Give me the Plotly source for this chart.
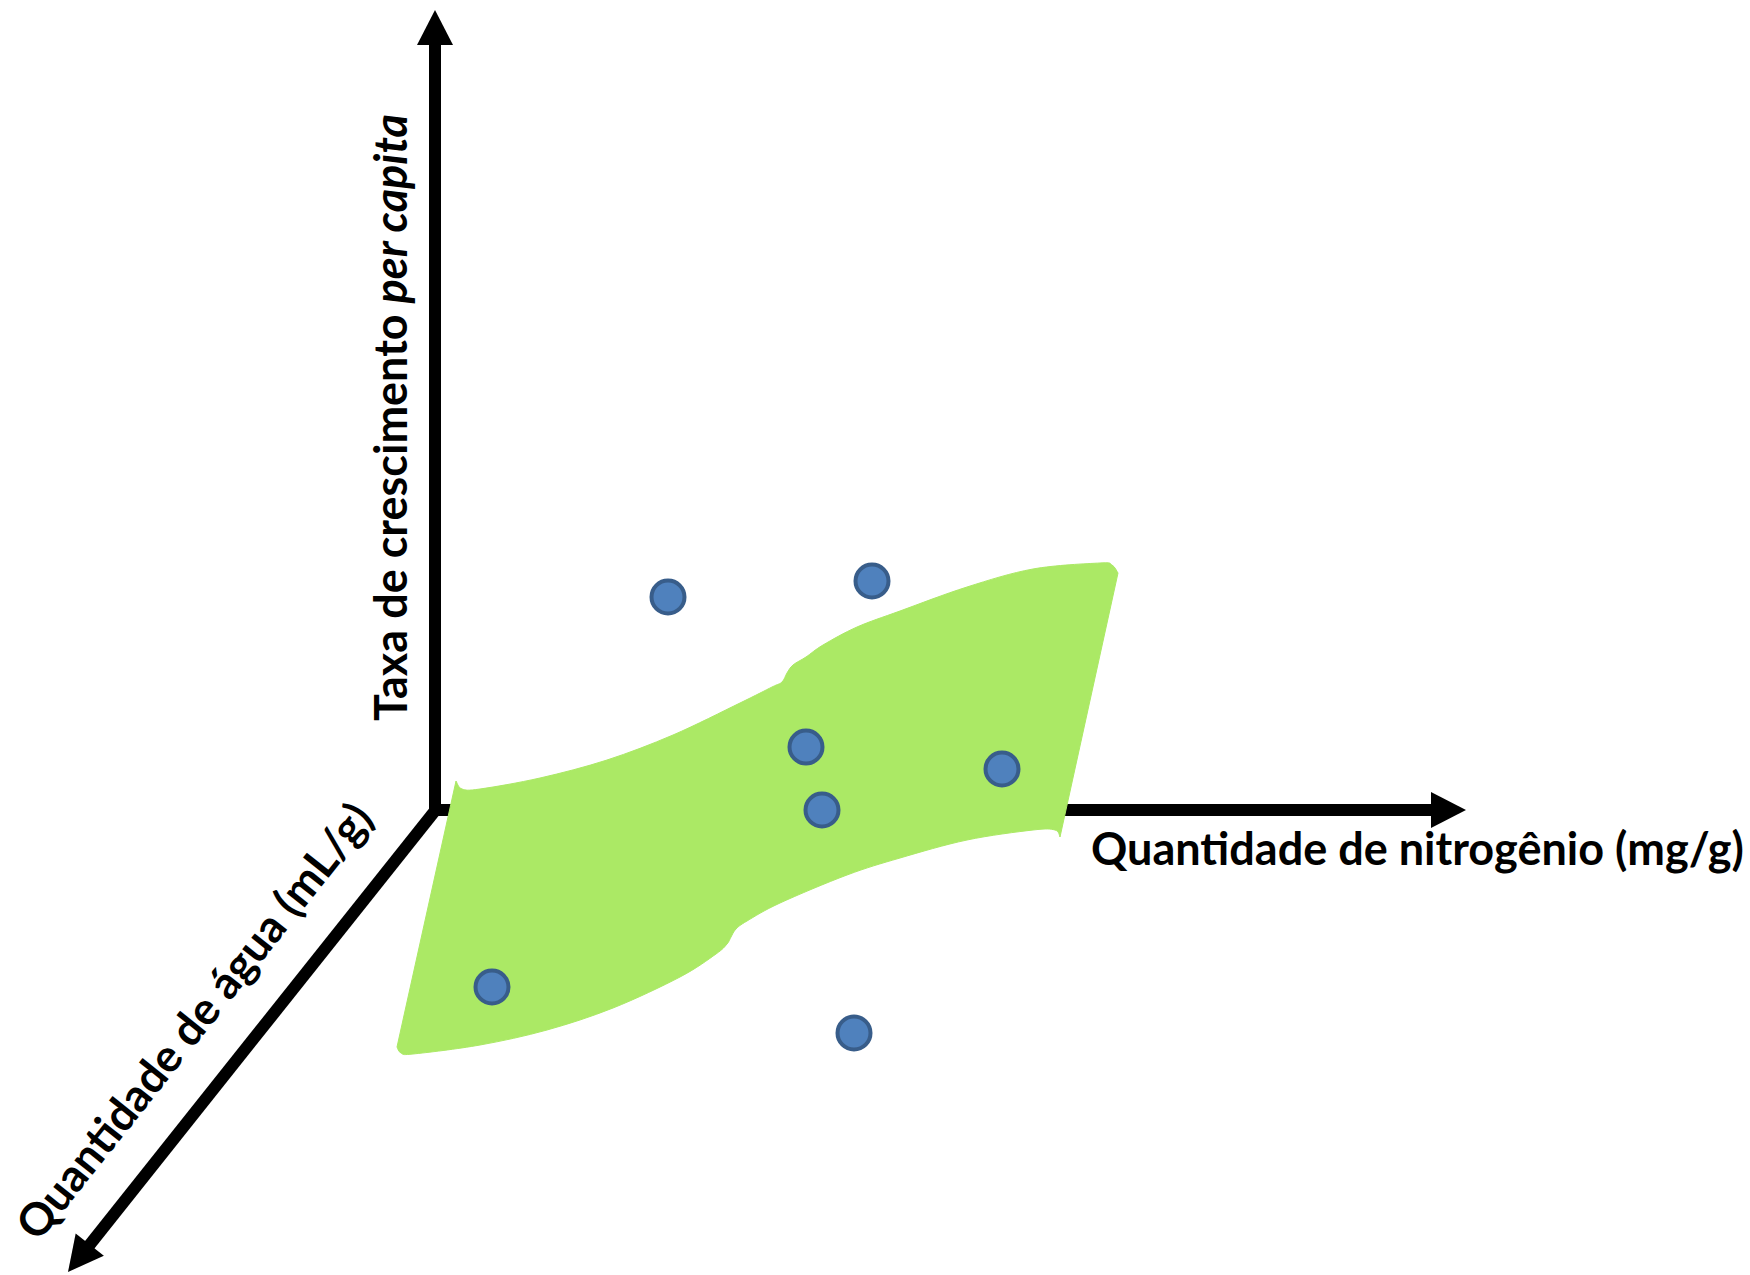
import math
import plotly.graph_objects as go

# Schematic canvas units (the diagram has no numeric scale)
CANVAS_W, CANVAS_H = 1750, 1275

# Axis origin and arrow tips
axis_origin = (435, 810)
tip_growth = (435, 10)       # vertical axis
tip_nitrogen = (1466, 810)   # horizontal axis
tip_water = (68, 1272)       # diagonal axis

axis_titles = {
    "nitrogen": "Quantidade de nitrogênio (mg/g)",
    "growth": "Taxa de crescimento <i>per capita</i>",
    "water": "Quantidade de água (mL/g)",
}

point_x = [668, 872, 806, 1002, 822, 492, 854]
point_y = [597, 581, 747, 769, 810, 987, 1033]

# Fitted surface outline: top edge (left -> right) and bottom edge (right -> left);
# the left and right edges are straight lines joining them.
top_x = [456, 462, 480, 540, 607, 673, 740, 772, 782, 787, 793, 806, 823, 857, 900, 967, 1033, 1100, 1112, 1118]
top_y = [781, 789, 789, 778, 760, 735, 703, 687, 682, 673, 665, 657, 645, 627, 611, 587, 569, 563, 565, 573]
bottom_x = [1060, 1055, 1033, 967, 900, 847, 780, 747, 736, 731, 727, 716, 680, 613, 547, 480, 413, 401, 397]
bottom_y = [837, 830, 830, 840, 858, 875, 903, 921, 929, 937, 944, 954, 977, 1008, 1030, 1045, 1054, 1053, 1047]

SURFACE_COLOR = "#ABE965"
POINT_FILL = "#4F81BD"
POINT_LINE = "#385D8A"
AXIS_COLOR = "#000000"
HEAD_LEN, HEAD_HALF = 35, 18
LINE_W = 12
FONT = "Lato, 'Open Sans', sans-serif"
FONT_SIZE = 45


def arrow_head(origin, tip):
    dx, dy = tip[0] - origin[0], tip[1] - origin[1]
    n = math.hypot(dx, dy)
    ux, uy = dx / n, dy / n
    px, py = -uy, ux
    bx, by = tip[0] - HEAD_LEN * ux, tip[1] - HEAD_LEN * uy
    tri = [(tip[0], tip[1]), (bx + HEAD_HALF * px, by + HEAD_HALF * py),
           (bx - HEAD_HALF * px, by - HEAD_HALF * py)]
    ex, ey = bx + 2 * ux, by + 2 * uy
    return (ex, ey), tri


def smooth_segments(xs, ys):
    """Catmull-Rom curve through the points, as SVG cubic segments."""
    pts = list(zip(xs, ys))
    out = []
    for i in range(len(pts) - 1):
        p0 = pts[i - 1] if i > 0 else pts[i]
        p1, p2 = pts[i], pts[i + 1]
        p3 = pts[i + 2] if i + 2 < len(pts) else pts[i + 1]
        c1 = (p1[0] + (p2[0] - p0[0]) / 6, p1[1] + (p2[1] - p0[1]) / 6)
        c2 = (p2[0] - (p3[0] - p1[0]) / 6, p2[1] - (p3[1] - p1[1]) / 6)
        out.append(f"C {c1[0]:.2f},{c1[1]:.2f} {c2[0]:.2f},{c2[1]:.2f} {p2[0]},{p2[1]}")
    return " ".join(out)


shapes = []
base_g, tri_g = arrow_head(axis_origin, tip_growth)
base_n, tri_n = arrow_head(axis_origin, tip_nitrogen)
base_w, tri_w = arrow_head(axis_origin, tip_water)

# axis lines (vertical + horizontal joined at the origin, diagonal separately)
shapes.append(dict(type="path", xref="x", yref="y", layer="below",
                   path=f"M {base_g[0]},{base_g[1]} L {axis_origin[0]},{axis_origin[1]} L {base_n[0]},{base_n[1]}",
                   line=dict(color=AXIS_COLOR, width=LINE_W), fillcolor="rgba(0,0,0,0)"))
shapes.append(dict(type="path", xref="x", yref="y", layer="below",
                   path=f"M {axis_origin[0] + 3},{axis_origin[1] - 3} L {base_w[0]},{base_w[1]}",
                   line=dict(color=AXIS_COLOR, width=LINE_W), fillcolor="rgba(0,0,0,0)"))
for tri in (tri_g, tri_n, tri_w):
    p = "M " + " L ".join(f"{x:.2f},{y:.2f}" for x, y in tri) + " Z"
    shapes.append(dict(type="path", xref="x", yref="y", layer="below", path=p,
                       fillcolor=AXIS_COLOR, line=dict(width=0)))

# surface (curved top/bottom edges, straight sides)
surface_path = (f"M {top_x[0]},{top_y[0]} " + smooth_segments(top_x, top_y)
                + f" L {bottom_x[0]},{bottom_y[0]} " + smooth_segments(bottom_x, bottom_y) + " Z")
shapes.append(dict(type="path", xref="x", yref="y", layer="below", path=surface_path,
                   fillcolor=SURFACE_COLOR, line=dict(color=SURFACE_COLOR, width=1)))

fig = go.Figure()
# points
fig.add_trace(go.Scatter(x=point_x, y=point_y, mode="markers",
                         marker=dict(size=33, color=POINT_FILL,
                                     line=dict(color=POINT_LINE, width=4))))

font = dict(family=FONT, size=FONT_SIZE, color="black", weight=700)
ang_w = math.degrees(math.atan2(tip_water[1] - axis_origin[1], axis_origin[0] - tip_water[0]))
fig.add_annotation(x=1746, y=848, xref="x", yref="y", text=axis_titles["nitrogen"],
                   showarrow=False, xanchor="right", yanchor="middle", font=font)
fig.add_annotation(x=390, y=418, xref="x", yref="y", text=axis_titles["growth"],
                   showarrow=False, textangle=-90, xanchor="center", yanchor="middle", font=font)
fig.add_annotation(x=193, y=1021, xref="x", yref="y", text=axis_titles["water"],
                   showarrow=False, textangle=-ang_w, xanchor="center", yanchor="middle", font=font)

fig.update_layout(
    width=CANVAS_W, height=CANVAS_H,
    margin=dict(l=0, r=0, t=0, b=0, pad=0),
    paper_bgcolor="white", plot_bgcolor="white",
    showlegend=False, hovermode=False, shapes=shapes,
    xaxis=dict(range=[0, CANVAS_W], visible=False, fixedrange=True),
    yaxis=dict(range=[CANVAS_H, 0], visible=False, fixedrange=True),
)

fig.write_html("out.html", config={"displayModeBar": False},
               post_script="document.body.style.margin='0';document.body.style.overflow='hidden';")
